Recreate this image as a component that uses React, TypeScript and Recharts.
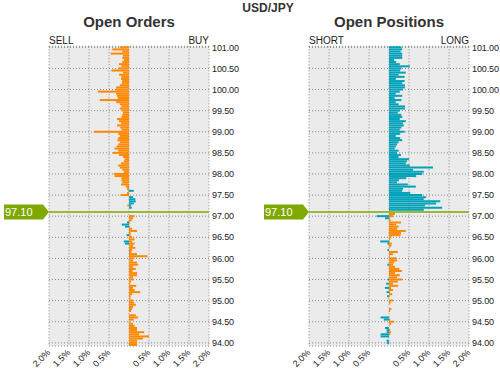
import React from 'react';
import { BarChart, Bar, XAxis, YAxis, CartesianGrid, ReferenceLine, Cell } from 'recharts';

const ORANGE = '#FF8800';
const TEAL = '#00A2BA';
const GREEN = '#7FA800';
const FONT = '"Liberation Sans", Arial, sans-serif';

// price buckets (category axis), top to bottom
const prices = [
  101.0, 100.95, 100.9, 100.85, 100.8, 100.75, 100.7, 100.65, 100.6, 100.55,
  100.5, 100.45, 100.4, 100.35, 100.3, 100.25, 100.2, 100.15, 100.1, 100.05,
  100.0, 99.95, 99.9, 99.85, 99.8, 99.75, 99.7, 99.65, 99.6, 99.55,
  99.5, 99.45, 99.4, 99.35, 99.3, 99.25, 99.2, 99.15, 99.1, 99.05,
  99.0, 98.95, 98.9, 98.85, 98.8, 98.75, 98.7, 98.65, 98.6, 98.55,
  98.5, 98.45, 98.4, 98.35, 98.3, 98.25, 98.2, 98.15, 98.1, 98.05,
  98.0, 97.95, 97.9, 97.85, 97.8, 97.75, 97.7, 97.65, 97.6, 97.55,
  97.5, 97.45, 97.4, 97.35, 97.3, 97.25, 97.2, 97.15, 97.1, 97.05,
  97.0, 96.95, 96.9, 96.85, 96.8, 96.75, 96.7, 96.65, 96.6, 96.55,
  96.5, 96.45, 96.4, 96.35, 96.3, 96.25, 96.2, 96.15, 96.1, 96.05,
  96.0, 95.95, 95.9, 95.85, 95.8, 95.75, 95.7, 95.65, 95.6, 95.55,
  95.5, 95.45, 95.4, 95.35, 95.3, 95.25, 95.2, 95.15, 95.1, 95.05,
  95.0, 94.95, 94.9, 94.85, 94.8, 94.75, 94.7, 94.65, 94.6, 94.55,
  94.5, 94.45, 94.4, 94.35, 94.3, 94.25, 94.2, 94.15, 94.1, 94.05,
  94.0, 93.95,
];

// Open Orders, % (sell side drawn left, buy side drawn right)
const ordersSell = [
  0.23, 0.42, 0.17, 0.46, 0.15, 0.17, 0.13, 0.17, 0.25, 0.19,
  0.27, 0.44, 0.15, 0.25, 0.19, 0.2, 0.17, 0.18, 0.23, 0.32,
  0.33, 0.78, 0.32, 0.3, 0.28, 0.73, 0.32, 0.23, 0.19, 0.23,
  0.17, 0.15, 0.17, 0.19, 0.3, 0.25, 0.2, 0.3, 0.22, 0.19,
  0.88, 0.27, 0.23, 0.27, 0.29, 0.23, 0.27, 0.31, 0.36, 0.27,
  0.4, 0.25, 0.15, 0.11, 0.13, 0.2, 0.27, 0.23, 0.17, 0.13,
  0.38, 0.36, 0.19, 0.19, 0.17, 0.2, 0.08, 0.05, 0.03, 0.05,
  0.21, 0, 0, 0, 0, 0.04, 0, 0, 0, 0,
  0, 0, 0, 0.05, 0.18, 0.1, 0, 0, 0, 0.06,
  0, 0, 0.13, 0.1, 0, 0, 0, 0, 0, 0,
  0, 0, 0, 0, 0, 0, 0, 0, 0, 0,
  0, 0, 0, 0, 0, 0, 0, 0, 0, 0,
  0, 0, 0, 0, 0, 0, 0, 0, 0, 0,
  0, 0, 0, 0, 0, 0, 0, 0, 0, 0,
  0, 0,
];
const ordersBuy = [
  0, 0, 0, 0, 0, 0, 0, 0, 0, 0,
  0, 0, 0, 0, 0, 0, 0, 0, 0, 0,
  0, 0, 0, 0, 0, 0, 0, 0, 0, 0,
  0, 0, 0, 0, 0, 0, 0, 0, 0, 0,
  0, 0, 0, 0, 0, 0, 0, 0, 0, 0,
  0, 0, 0, 0, 0, 0, 0, 0, 0, 0,
  0, 0, 0, 0, 0, 0, 0, 0, 0.12, 0,
  0, 0.1, 0.16, 0.17, 0.12, 0.05, 0.07, 0, 0, 0,
  0.14, 0.1, 0.07, 0.02, 0, 0.03, 0.08, 0.2, 0.04, 0.04,
  0.08, 0.14, 0.08, 0.14, 0.1, 0.16, 0.08, 0.06, 0.2, 0.46,
  0.13, 0.1, 0.2, 0.23, 0.1, 0.17, 0.09, 0.2, 0.2, 0.1,
  0.12, 0.05, 0.03, 0.18, 0.1, 0.14, 0.28, 0.08, 0.04, 0.04,
  0.1, 0.13, 0.17, 0.1, 0.08, 0.05, 0, 0.17, 0.23, 0.12,
  0.02, 0.1, 0.14, 0.2, 0.2, 0.38, 0.25, 0.5, 0.35, 0.2,
  0.2, 0.2,
];

// Open Positions, % (short drawn left, long drawn right)
const positionsShort = [
  0, 0, 0, 0, 0, 0, 0, 0, 0, 0,
  0, 0, 0, 0, 0, 0, 0, 0, 0, 0,
  0, 0, 0, 0, 0, 0, 0, 0, 0, 0,
  0, 0, 0, 0, 0, 0, 0, 0, 0, 0,
  0, 0, 0, 0, 0, 0, 0, 0, 0, 0,
  0, 0, 0, 0, 0, 0, 0, 0, 0, 0,
  0, 0, 0, 0, 0, 0, 0, 0, 0, 0,
  0, 0, 0, 0, 0, 0, 0, 0, 0, 0,
  0.31, 0.1, 0, 0, 0, 0, 0, 0, 0, 0,
  0, 0, 0.22, 0.04, 0, 0, 0.04, 0, 0, 0,
  0, 0, 0, 0.04, 0, 0, 0, 0, 0, 0,
  0.03, 0, 0.07, 0, 0.1, 0, 0.06, 0, 0.05, 0,
  0, 0, 0, 0, 0, 0, 0, 0, 0.21, 0.13,
  0, 0, 0, 0.1, 0.06, 0.06, 0.21, 0.21, 0, 0.06,
  0.06, 0,
];
const positionsLong = [
  0.31, 0.33, 0.29, 0.33, 0.33, 0.33, 0.13, 0.18, 0.27, 0.52,
  0.31, 0.28, 0.42, 0.24, 0.39, 0.17, 0.39, 0.33, 0.4, 0.4,
  0.35, 0.27, 0.17, 0.33, 0.14, 0.31, 0.17, 0.24, 0.4, 0.4,
  0.27, 0.22, 0.31, 0.33, 0.27, 0.42, 0.35, 0.37, 0.31, 0.27,
  0.39, 0.28, 0.17, 0.28, 0.33, 0.24, 0.2, 0.17, 0.14, 0.24,
  0.2, 0.3, 0.24, 0.5, 0.45, 0.42, 0.52, 1.1, 0.6, 0.87,
  0.83, 0.68, 0.43, 0.25, 0.2, 0.47, 0.67, 0.35, 0.33, 0.53,
  0.83, 0.93, 0.87, 1.28, 1.18, 0.9, 1.33, 0.87, 0, 0.15,
  0.1, 0.03, 0.04, 0.3, 0.18, 0.24, 0.2, 0.42, 0.3, 0.29,
  0.06, 0.03, 0.02, 0.07, 0.06, 0.02, 0, 0.22, 0.1, 0.02,
  0.18, 0.2, 0.13, 0.1, 0.15, 0.26, 0.32, 0.15, 0.27, 0.2,
  0.33, 0.22, 0.1, 0.23, 0.05, 0.1, 0.03, 0.08, 0.02, 0,
  0.1, 0.04, 0, 0, 0.06, 0.03, 0, 0, 0, 0.03,
  0.13, 0.05, 0, 0, 0.03, 0.05, 0.03, 0, 0, 0,
  0, 0,
];

const priceTicks = [101, 100.5, 100, 99.5, 99, 98.5, 98, 97.5, 97, 96.5, 96, 95.5, 95, 94.5, 94];
const pctTicks = [-2, -1.5, -1, -0.5, 0, 0.5, 1, 1.5, 2];
const currentPrice = 97.1;
const currentPriceLabel = '97.10';

type Row = { price: number; left: number; right: number };

function buildRows(leftVals: number[], rightVals: number[]): Row[] {
  return prices.map((p, i) => ({ price: p, left: -leftVals[i], right: rightVals[i] }));
}

const PriceTick = (props: any) => {
  const { x, y, payload } = props;
  return (
    <text x={x} y={y} dy="0.35em" textAnchor="start" fontSize={9} letterSpacing={-0.1} fill="#222" fontFamily={FONT}>
      {Number(payload.value).toFixed(2)}
    </text>
  );
};

const PctTick = (props: any) => {
  const { x, y, payload } = props;
  const v = Number(payload.value);
  if (v === 0) return <g />;
  const label = Math.abs(v).toFixed(1) + '%';
  const ax = x + 2;
  const ay = y + 7;
  return (
    <text
      x={ax}
      y={ay}
      transform={`rotate(-45 ${ax} ${ay})`}
      textAnchor="end"
      fontSize={9}
      fill="#222"
      fontFamily={FONT}
    >
      {label}
    </text>
  );
};

const PriceTag = (props: any) => {
  const vb = props.viewBox || {};
  const x = vb.x ?? 49;
  const y = vb.y ?? 212;
  const pts = `${x - 45},${y - 7.5} ${x - 6},${y - 7.5} ${x},${y} ${x - 6},${y + 7.5} ${x - 45},${y + 7.5}`;
  return (
    <g>
      <polygon points={pts} fill={GREEN} />
      <text x={x - 44} y={y} dy="0.36em" fontSize={11} fill="#fff" fontFamily={FONT}>
        {currentPriceLabel}
      </text>
    </g>
  );
};

function Panel({ rows, left }: { rows: Row[]; left: number }) {
  return (
    <div style={{ position: 'absolute', left, top: 0 }}>
      <BarChart
        width={250}
        height={372}
        data={rows}
        layout="vertical"
        margin={{ top: 46.3, right: 0, bottom: 0, left: 49 }}
        barCategoryGap={0}
        barGap={0}
        stackOffset="sign"
      >
        <CartesianGrid fill="#EBEBEB" stroke="#888" strokeDasharray="1 2" />
        <XAxis
          type="number"
          domain={[-2, 2]}
          ticks={pctTicks}
          allowDataOverflow
          axisLine={false}
          tickLine={false}
          tickSize={0}
          tickMargin={0}
          height={26}
          interval={0}
          tick={PctTick}
        />
        <YAxis
          type="category"
          dataKey="price"
          orientation="right"
          ticks={priceTicks}
          width={41}
          axisLine={false}
          tickLine={false}
          tickSize={0}
          tickMargin={3}
          interval={0}
          tick={PriceTick}
        />
        <Bar dataKey="left" stackId="s" isAnimationActive={false}>
          {rows.map((r, i) => (
            <Cell key={`l${i}`} fill={r.price > currentPrice ? ORANGE : TEAL} />
          ))}
        </Bar>
        <Bar dataKey="right" stackId="s" isAnimationActive={false}>
          {rows.map((r, i) => (
            <Cell key={`r${i}`} fill={r.price > currentPrice ? TEAL : ORANGE} />
          ))}
        </Bar>
        <ReferenceLine
          y={currentPrice}
          stroke={GREEN}
          strokeWidth={1.5}
          ifOverflow="visible"
          label={PriceTag}
        />
      </BarChart>
    </div>
  );
}

export default function App() {
  const orderRows = buildRows(ordersSell, ordersBuy);
  const positionRows = buildRows(positionsShort, positionsLong);
  return (
    <div style={{ position: 'absolute', left: 0, top: 0, width: 500, height: 372, background: '#fff', overflow: 'hidden' }}>
      <Panel rows={orderRows} left={0} />
      <Panel rows={positionRows} left={260} />
      <svg width={500} height={372} style={{ position: 'absolute', left: 0, top: 0, pointerEvents: 'none' }}>
        <g fontFamily={FONT}>
          <text x={268} y={12} textAnchor="middle" fontWeight="bold" fontSize={12} fill="#333">USD/JPY</text>
          <text x={129} y={27} textAnchor="middle" fontWeight="bold" fontSize={15} fill="#333">Open Orders</text>
          <text x={389} y={27} textAnchor="middle" fontWeight="bold" fontSize={15} fill="#333">Open Positions</text>
          <text x={49} y={44} fontSize={10} fill="#222">SELL</text>
          <text x={209} y={44} textAnchor="end" fontSize={10} fill="#222">BUY</text>
          <text x={309} y={44} fontSize={10} fill="#222">SHORT</text>
          <text x={469} y={44} textAnchor="end" fontSize={10} fill="#222">LONG</text>
        </g>
      </svg>
    </div>
  );
}
